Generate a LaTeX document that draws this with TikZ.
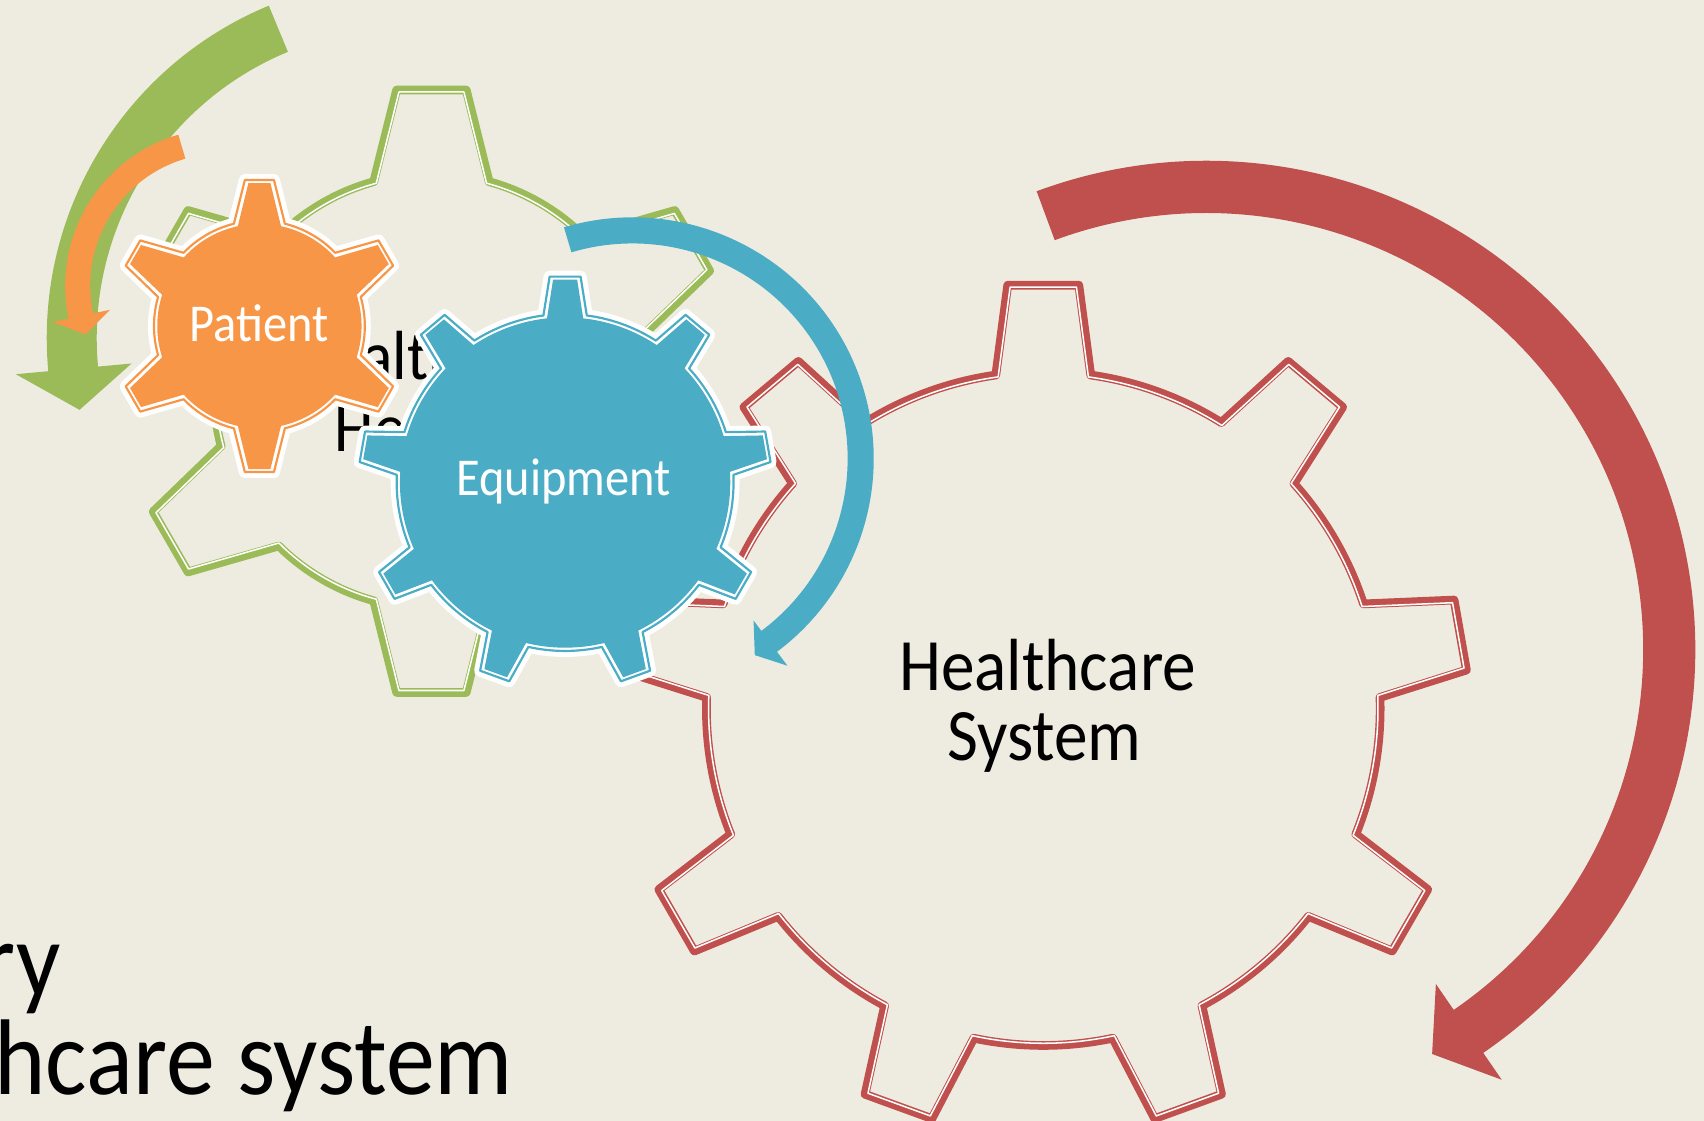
\documentclass[tikz,border=0pt]{standalone}
\usepackage{fontspec}
\setmainfont{Carlito}[FakeStretch=0.91]
\definecolor{bg}{HTML}{EEECE1}
\definecolor{cRed}{HTML}{C0504D}
\definecolor{cGreen}{HTML}{9BBB59}
\definecolor{cBlue}{HTML}{4BACC6}
\definecolor{cOrange}{HTML}{F79646}
% gear path: #1 teeth, #2 tip radius, #3 root radius, #4 tip half angle, #5 base half angle, #6 first tooth angle
\newcommand\gearp[6]{%
  ({#6-#5}:#3) \foreach \k in {1,...,#1}{ -- ({#6+(\k-1)*360/#1-#4}:#2) -- ({#6+(\k-1)*360/#1+#4}:#2) -- ({#6+(\k-1)*360/#1+#5}:#3) arc[start angle={#6+(\k-1)*360/#1+#5}, end angle={#6+\k*360/#1-#5}, radius=#3]} -- cycle}
% circular arrow: #1 Rin, #2 Rout, #3 tail angle, #4 shaft end angle, #5 inner barb r, #6 outer barb r, #7 tip angle, #8 tip r
\newcommand\carrowp[8]{%
  (#3:#2) arc[start angle=#3, end angle=#4, radius=#2] -- (#4:#6) -- (#7:#8) -- (#4:#5) -- (#4:#1) arc[start angle=#4, end angle=#3, radius=#1] -- cycle}
\tikzset{
  gearline/.style={line width=8pt, line join=round},
  gearinner/.style={white, line width=1.4pt, line join=round},
  gearhalo/.style={white, fill=white, line width=11pt, line join=round},
  gearthin/.style={line width=2pt, line join=round},
  lbl/.style={inner sep=0pt, outer sep=0pt},
}
\begin{document}
\begin{tikzpicture}[x=1pt, y=-1pt]
\useasboundingbox (0,0) rectangle (1568,1031.5);
\fill[bg] (0,0) rectangle (1568,1031.5);
\clip (0,0) rectangle (1568,1031.5);

% Red gear (Healthcare System)
\begin{scope}[shift={(960,652)}]
  \draw[cRed, gearline] \gearp{9}{391}{310}{4.8}{8.1}{-90};
  \draw[gearinner] \gearp{9}{389}{308}{4.5}{7.75}{-90};
\end{scope}

% Green gear
\begin{scope}[shift={(397,360)}]
  \draw[cGreen, gearline] \gearp{6}{279}{200}{6.6}{15.4}{-90};
  \draw[gearinner] \gearp{6}{277}{198}{6.2}{14.85}{-90};
\end{scope}

% texts of the outline gears
\node[lbl, anchor=base west, font=\fontsize{64}{64}\selectfont] (gA) at (268,349) {Healthcare};
\node[lbl, anchor=base west, font=\fontsize{64}{64}\selectfont] (gB) at (308,415) {He};
\node[lbl, anchor=base, font=\fontsize{68}{68}\selectfont] (hsA) at (964,635) {Healthcare};
\node[lbl, anchor=base, font=\fontsize{68}{68}\selectfont] (hsB) at (961,700) {System};

% title (cut at the left edge)
\node[lbl, anchor=base east, font=\fontsize{99}{99}\selectfont] (tA) at (56,917) {ry};
\node[lbl, anchor=base west, font=\fontsize{99}{99}\selectfont] (tB) at (-5,1007) {hcare system};

% circular arrows
\fill[cGreen, shift={(374,311)}] \carrowp{285}{331}{-112.5}{-185.3}{254}{361}{-192.4}{308};
\fill[cOrange, shift={(205,263)}] \carrowp{122}{145}{-106.4}{-192}{106}{160}{-199.5}{134};
\fill[cBlue, shift={(582,422)}] \carrowp{198}{222}{-106.5}{53.2}{186}{238}{58.1}{213};
\fill[cRed, shift={(1110,598)}] \carrowp{402}{450}{-110.3}{55.5}{373}{480}{60.8}{426};

% Patient gear
\begin{scope}[shift={(238.7,300)}]
  \draw[gearhalo] \gearp{6}{135}{97}{5.7}{14}{-90};
  \draw[cOrange, gearthin] \gearp{6}{135}{97}{5.7}{14}{-90};
  \fill[cOrange] \gearp{6}{132}{94}{4.4}{12.2}{-90};
\end{scope}
\node[lbl, anchor=base, text=white, font=\fontsize{49}{49}\selectfont] (pat) at (238.7,314.5) {Patient};

% Equipment gear
\begin{scope}[shift={(520,444)}]
  \draw[gearhalo] \gearp{9}{190}{155}{4.3}{7.4}{-90};
  \draw[cBlue, gearthin] \gearp{9}{190}{155}{4.3}{7.4}{-90};
  \fill[cBlue] \gearp{9}{187}{152}{3.4}{6.3}{-90};
\end{scope}
\node[lbl, anchor=base, text=white, font=\fontsize{49}{49}\selectfont] (equ) at (518.5,455.7) {Equipment};
\end{tikzpicture}
\end{document}
